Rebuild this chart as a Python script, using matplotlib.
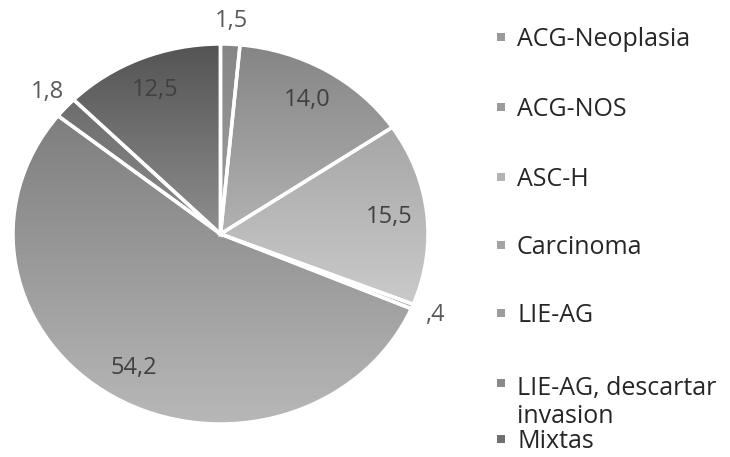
import numpy as np
import matplotlib
matplotlib.use('Agg')
import matplotlib.pyplot as plt
from matplotlib.patches import Rectangle
from matplotlib.colors import to_rgb

plt.rcParams['font.family'] = ['Open Sans', 'DejaVu Sans']

# Datos
categorias = ['ACG-Neoplasia', 'ACG-NOS', 'ASC-H', 'Carcinoma', 'LIE-AG',
              'LIE-AG, descartar\ninvasion', 'Mixtas']
valores = [1.5, 14.0, 15.5, 0.4, 54.2, 1.8, 12.5]
etiquetas = ['1,5', '14,0', '15,5', ',4', '54,2', '1,8', '12,5']
fuera = [True, False, False, True, False, True, False]

# Colores (degradado arriba -> abajo) y color plano para la leyenda
col_arriba = ['#868686', '#858585', '#a6a6a6', '#a0a0a0', '#7e7e7e', '#6c6c6c', '#545454']
col_abajo = ['#a0a0a0', '#b2b2b2', '#cacaca', '#b0b0b0', '#b8b8b8', '#8e8e8e', '#8e8e8e']
col_leyenda = ['#9a9a9a', '#9c9c9c', '#b4b4b4', '#a4a4a4', '#9c9c9c', '#8a8a8a', '#707070']

W, H = 730, 457
fig = plt.figure(figsize=(W / 100, H / 100), dpi=100)
ax = fig.add_axes([13 / W, 33 / H, 415 / W, 380 / H])

wedges, _ = ax.pie(valores, startangle=90, counterclock=False,
                   wedgeprops=dict(facecolor='none', edgecolor='white', linewidth=2.5, zorder=3))

# Relleno con degradado vertical en cada porcion
for w, ca, cb in zip(wedges, col_arriba, col_abajo):
    verts = w.get_patch_transform().transform(w.get_path().vertices)
    x0, x1 = verts[:, 0].min(), verts[:, 0].max()
    y0, y1 = verts[:, 1].min(), verts[:, 1].max()
    t = np.linspace(0, 1, 256)[:, None]
    grad = (1 - t) * np.array(to_rgb(cb)) + t * np.array(to_rgb(ca))
    im = ax.imshow(grad[:, None, :], extent=[x0, x1, y0, y1], origin='lower',
                   aspect='auto', zorder=1, interpolation='bilinear')
    im.set_clip_path(w)

ax.set_aspect('auto')
ax.set_xlim(-1, 1)
ax.set_ylim(-1, 1)
ax.axis('off')

# Etiquetas de valores
for w, txt, f in zip(wedges, etiquetas, fuera):
    ang = np.deg2rad((w.theta1 + w.theta2) / 2)
    r = 1.12 if f else 0.82
    ax.text(r * np.cos(ang), r * np.sin(ang), txt, ha='center', va='center',
            fontsize=17, color='#595959' if f else '#404040', zorder=5)

# Leyenda manual (filas en pixeles desde arriba, primera linea de cada entrada)
filas_y = [37, 107, 177, 245, 313, 383, 439]
paso_linea = 29
for cat, c, yy in zip(categorias, col_leyenda, filas_y):
    fy = 1 - yy / H
    n = cat.count('\n')
    fig.add_artist(Rectangle((497 / W, fy - 4 / H), 8 / W, 8 / H,
                             transform=fig.transFigure, facecolor=c, edgecolor='none'))
    fig.text(517 / W, fy - n * paso_linea / 2 / H, cat, ha='left', va='center_baseline',
             fontsize=18, color='#262626', linespacing=1.16)

fig.savefig('out.png', dpi=100)
